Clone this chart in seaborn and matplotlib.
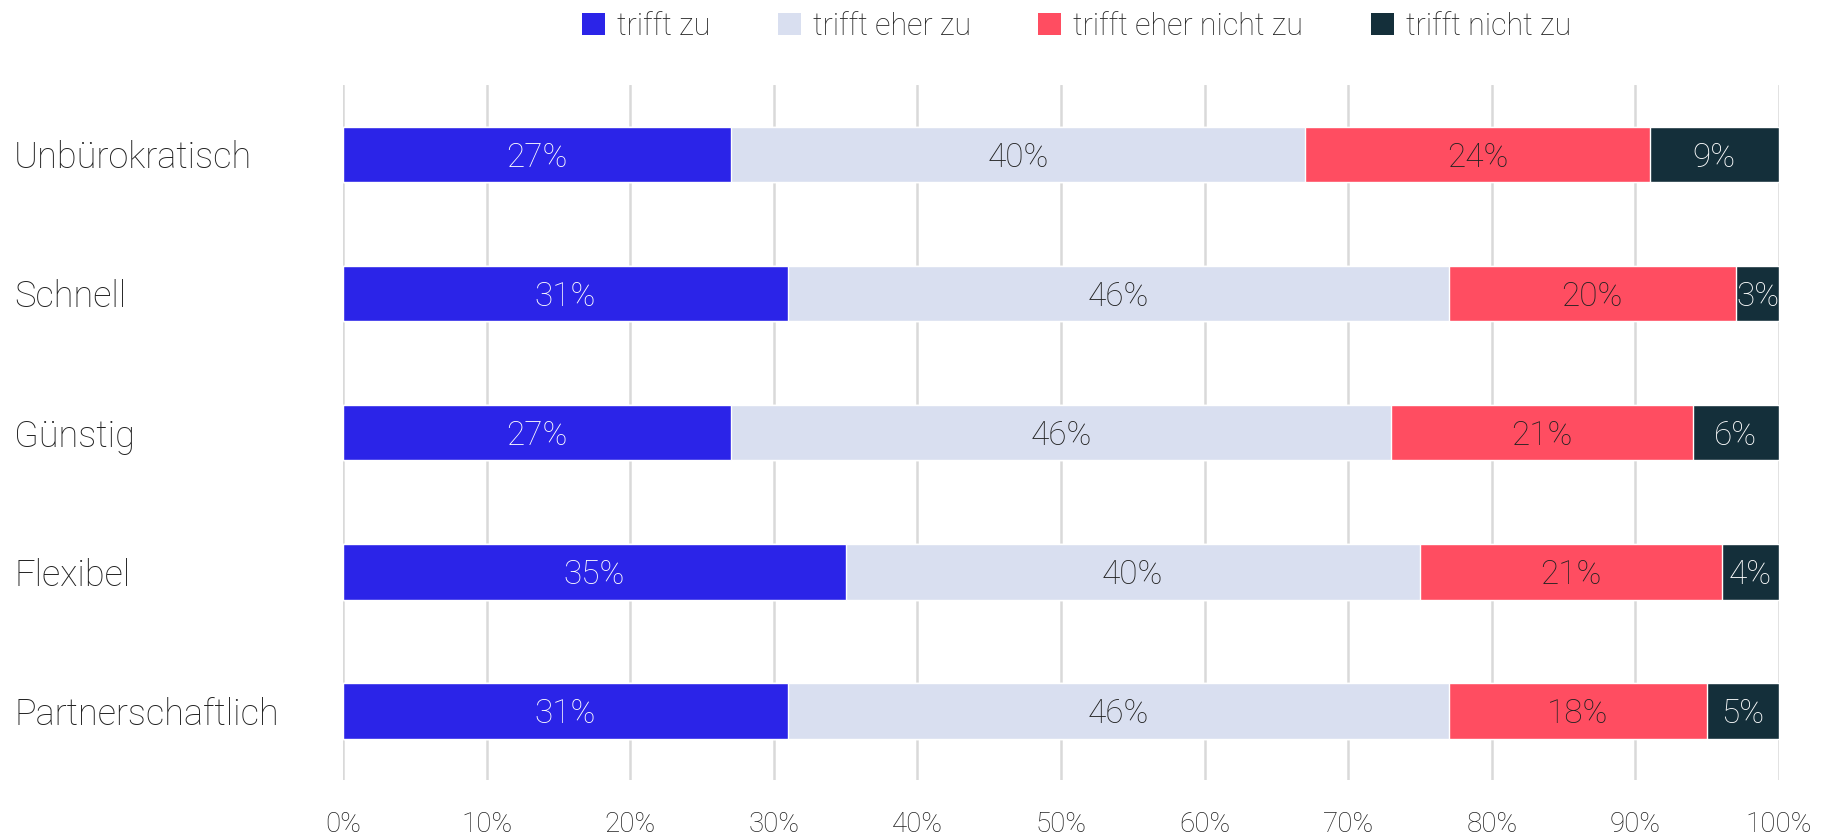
import matplotlib
matplotlib.use("Agg")
import matplotlib.pyplot as plt
import matplotlib.transforms as mtransforms
from matplotlib.patches import Patch
import numpy as np
import pandas as pd
import seaborn as sns

categories = ["Unbürokratisch", "Schnell", "Günstig", "Flexibel", "Partnerschaftlich"]
series_names = ["trifft zu", "trifft eher zu", "trifft eher nicht zu", "trifft nicht zu"]
trifft_zu = [27, 31, 27, 35, 31]
trifft_eher_zu = [40, 46, 46, 40, 46]
trifft_eher_nicht_zu = [24, 20, 21, 21, 18]
trifft_nicht_zu = [9, 3, 6, 4, 5]
x_ticks = [0, 10, 20, 30, 40, 50, 60, 70, 80, 90, 100]

colors = ["#2b24e8", "#d9dff0", "#ff4d61", "#142f3a"]
label_colors = ["#ffffff", "#222222", "#222222", "#ffffff"]

sns.set_theme(style="white")
plt.rcParams["font.family"] = ["Roboto", "DejaVu Sans"]
plt.rcParams["font.weight"] = "light"

values = np.array([trifft_zu, trifft_eher_zu, trifft_eher_nicht_zu, trifft_nicht_zu])
cum = values.cumsum(axis=0)

fig = plt.figure(figsize=(18.34, 8.4), dpi=100)
ax = fig.add_axes([0.187, 0.071, 0.783, 0.828])

# draw from the total backwards so each shorter segment overlays the longer one
for i in range(len(series_names) - 1, -1, -1):
    df = pd.DataFrame({"cat": categories, "val": cum[i]})
    sns.barplot(data=df, x="val", y="cat", orient="h", color=colors[i],
                width=0.4, saturation=1, ax=ax, zorder=3)

# segment labels
for i in range(len(series_names)):
    left = cum[i] - values[i]
    for j, cat in enumerate(categories):
        ax.text(left[j] + values[i][j] / 2, j, f"{values[i][j]}%",
                ha="center", va="center_baseline", fontsize=24, color=label_colors[i],
                fontweight="light", zorder=4)

ax.set_xlim(0, 100)
ax.set_ylim(4.5, -0.5)
ax.set_xticks(x_ticks)
ax.set_xticklabels([f"{t}%" for t in x_ticks], fontsize=20, color="#222222")
ax.tick_params(axis="x", length=0, pad=22)
ax.set_yticks(range(len(categories)))
ax.set_yticklabels([])
ax.tick_params(axis="y", length=0)
ax.set_xlabel("")
ax.set_ylabel("")
ax.grid(axis="x", color="#d9d9d9", linewidth=1.8, zorder=0)
ax.set_axisbelow(True)
for s in ax.spines.values():
    s.set_visible(False)

trans = mtransforms.blended_transform_factory(fig.transFigure, ax.transData)
for j, cat in enumerate(categories):
    ax.text(14 / 1834, j, cat, transform=trans, ha="left", va="center_baseline",
            fontsize=26, color="#222222", fontweight="light")

handles = [Patch(facecolor=c, edgecolor="none") for c in colors]
fig.legend(handles, series_names, loc="center", bbox_to_anchor=(0.587, 0.969),
           ncol=4, frameon=False, fontsize=22, handlelength=0.75, handleheight=0.75,
           columnspacing=2.2, handletextpad=0.4, labelcolor="#222222")

fig.savefig("out.png", dpi=100)
